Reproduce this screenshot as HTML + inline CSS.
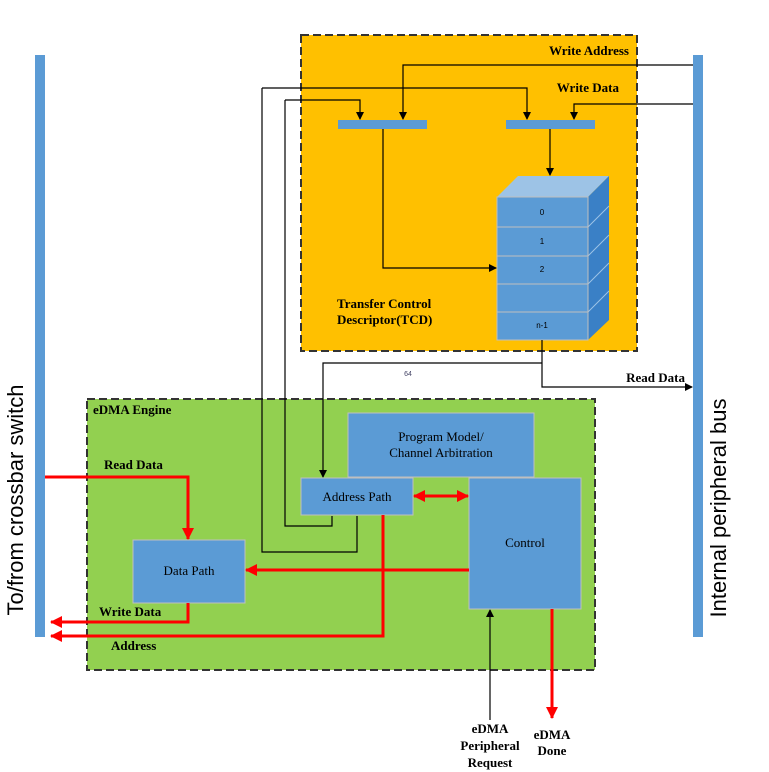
<!DOCTYPE html>
<html><head><style>body{margin:0;background:#fff}svg{display:block}</style></head><body>
<svg width="769" height="772" xmlns="http://www.w3.org/2000/svg" font-family="Liberation Serif, serif">
<defs>
<marker id="ab" markerWidth="8" markerHeight="8" refX="7" refY="4" orient="auto" markerUnits="userSpaceOnUse"><path d="M0,0 L8,4 L0,8z" fill="#000"/></marker>
<marker id="ar" markerWidth="12" markerHeight="12" refX="11" refY="6" orient="auto-start-reverse" markerUnits="userSpaceOnUse"><path d="M0,0 L12,6 L0,12z" fill="#f00"/></marker>
</defs>
<rect x="35" y="55" width="10" height="582" fill="#5B9BD5"/>
<rect x="693" y="55" width="10" height="582" fill="#5B9BD5"/>
<rect x="301" y="35" width="336" height="316" fill="#FFC000" stroke="#333" stroke-width="2" stroke-dasharray="8,4"/>
<rect x="87" y="399" width="508" height="271" fill="#92D050" stroke="#333" stroke-width="2" stroke-dasharray="8,4"/>
<text x="15" y="500" font-family="Liberation Sans, sans-serif" font-size="22" text-anchor="middle" transform="rotate(-90 15 500)" dy="8">To/from crossbar switch</text>
<text x="718" y="508" font-family="Liberation Sans, sans-serif" font-size="22" text-anchor="middle" transform="rotate(-90 718 508)" dy="8">Internal peripheral bus</text>
<g font-weight="bold" font-size="13">
<text x="629" y="55" text-anchor="end">Write Address</text>
<text x="619" y="92" text-anchor="end">Write Data</text>
<text x="337" y="308">Transfer Control</text>
<text x="337" y="324">Descriptor(TCD)</text>
<text x="685" y="382" text-anchor="end">Read Data</text>
<text x="93" y="414" font-size="13">eDMA Engine</text>
<text x="104" y="469">Read Data</text>
<text x="99" y="616">Write Data</text>
<text x="111" y="650">Address</text>
<text x="490" y="733" text-anchor="middle">eDMA</text>
<text x="490" y="750" text-anchor="middle">Peripheral</text>
<text x="490" y="767" text-anchor="middle">Request</text>
<text x="552" y="739" text-anchor="middle">eDMA</text>
<text x="552" y="755" text-anchor="middle">Done</text>
</g>
<text x="408" y="376" font-size="7" fill="#446" font-family="Liberation Sans,sans-serif" text-anchor="middle">64</text>
<rect x="338" y="120" width="89" height="9" fill="#5B9BD5"/>
<rect x="506" y="120" width="89" height="9" fill="#5B9BD5"/>
<polygon points="497,197 518,176 609,176 588,197" fill="#9DC3E6"/>
<polygon points="588,197 609,176 609,320 588,340" fill="#3A80C6"/>
<g stroke="#9DC3E6" stroke-width="1"><line x1="588" y1="227" x2="609" y2="206"/><line x1="588" y1="256" x2="609" y2="235"/><line x1="588" y1="284" x2="609" y2="263"/><line x1="588" y1="312" x2="609" y2="291"/></g>
<g fill="#5B9BD5" stroke="#BFBFBF"><rect x="497" y="197" width="91" height="30"/><rect x="497" y="227" width="91" height="29"/><rect x="497" y="256" width="91" height="28"/><rect x="497" y="284" width="91" height="28"/><rect x="497" y="312" width="91" height="28"/></g>
<g font-family="Liberation Sans,sans-serif" font-size="8" text-anchor="middle"><text x="542" y="215">0</text><text x="542" y="244">1</text><text x="542" y="272">2</text><text x="542" y="328">n-1</text></g>
<g fill="none" stroke="#000" stroke-width="1.2">
<path d="M693,65 H403 V119" marker-end="url(#ab)"/>
<path d="M693,104 H574 V119" marker-end="url(#ab)"/>
<path d="M262,88 H527 V119" marker-end="url(#ab)"/>
<path d="M285,100 H360 V119" marker-end="url(#ab)"/>
<path d="M262,88 V552 H357 V516"/>
<path d="M285,100 V526 H332 V516"/>
<path d="M383,129 V268 H496" marker-end="url(#ab)"/>
<path d="M550,129 V175" marker-end="url(#ab)"/>
<path d="M542,340 V387 H692" marker-end="url(#ab)"/>
<path d="M542,363 H323 V477" marker-end="url(#ab)"/>
<path d="M490,720 V610" marker-end="url(#ab)"/>
</g>
<g fill="#5B9BD5" stroke="#BFBFBF">
<rect x="348" y="413" width="186" height="64"/>
<rect x="301" y="478" width="112" height="37"/>
<rect x="469" y="478" width="112" height="131"/>
<rect x="133" y="540" width="112" height="63"/>
</g>
<g font-size="13" text-anchor="middle">
<text x="441" y="441">Program Model/</text><text x="441" y="457">Channel Arbitration</text>
<text x="357" y="501">Address Path</text>
<text x="525" y="547">Control</text>
<text x="189" y="575">Data Path</text>
</g>
<g fill="none" stroke="#f00" stroke-width="3">
<path d="M45,477 H188 V539" marker-end="url(#ar)"/>
<path d="M188,603 V622 H51" marker-end="url(#ar)"/>
<path d="M383,515 V636 H51" marker-end="url(#ar)"/>
<path d="M469,570 H246" marker-end="url(#ar)"/>
<path d="M414,496 H468" marker-start="url(#ar)" marker-end="url(#ar)"/>
<path d="M552,609 V718" marker-end="url(#ar)"/>
</g>
</svg>
</body></html>
